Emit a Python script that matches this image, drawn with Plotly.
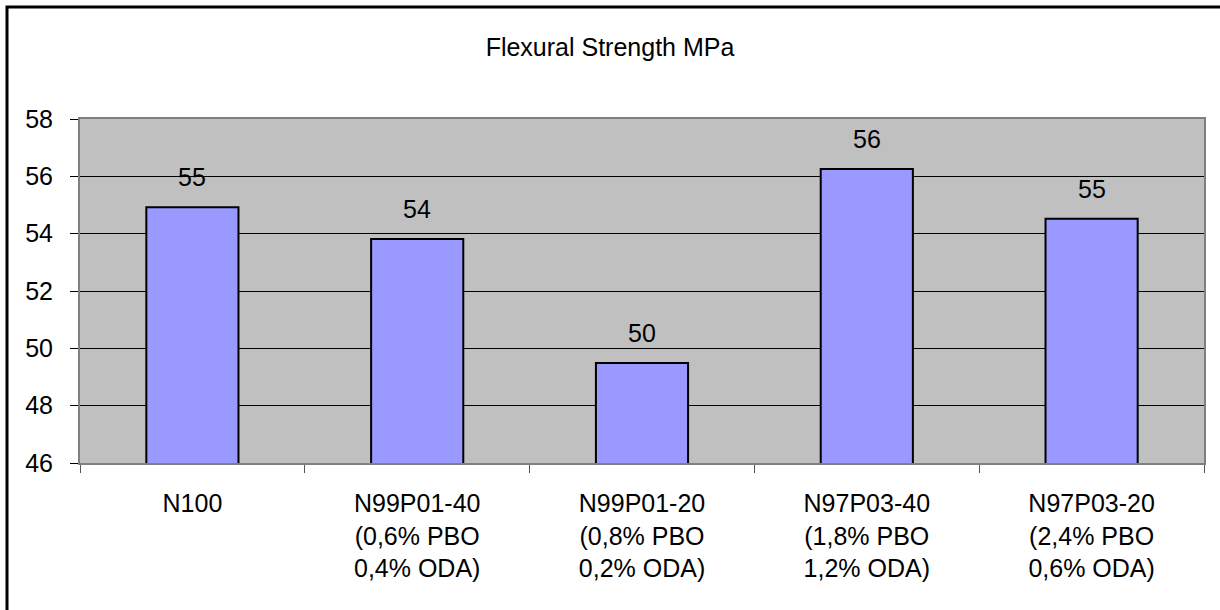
import plotly.graph_objects as go

# Flexural strength per blend composition
categories = [
    "N100",
    "N99P01-40<br>(0,6% PBO<br>0,4% ODA)",
    "N99P01-20<br>(0,8% PBO<br>0,2% ODA)",
    "N97P03-40<br>(1,8% PBO<br>1,2% ODA)",
    "N97P03-20<br>(2,4% PBO<br>0,6% ODA)",
]
strength = [54.92, 53.81, 49.49, 56.26, 54.52]
value_labels = ["55", "54", "50", "56", "55"]
y_ticks = [46, 48, 50, 52, 54, 56, 58]

FONT = "Liberation Sans, Arial, sans-serif"

fig = go.Figure()
fig.add_trace(go.Bar(
    x=categories,
    y=strength,
    width=0.41,
    marker=dict(color="#9999FF", line=dict(color="#000000", width=2)),
    hoverinfo="x+y",
))

# value labels above each bar
for cat, val, lab in zip(categories, strength, value_labels):
    fig.add_annotation(
        x=cat, y=val, text=lab, showarrow=False,
        yanchor="middle", yshift=30,
        font=dict(family=FONT, size=25, color="#000000"),
    )

# outer chart frame
fig.add_shape(
    type="rect", xref="paper", yref="paper",
    x0=(7 - 80) / 1124, x1=(1230 - 80) / 1124,
    y0=(463 - 620) / 344, y1=(463 - 7) / 344,
    line=dict(color="#000000", width=3), fillcolor="rgba(0,0,0,0)",
    layer="above",
)

fig.update_layout(
    width=1220, height=610,
    margin=dict(l=80, r=16, t=119, b=147, pad=0),
    paper_bgcolor="#FFFFFF",
    plot_bgcolor="#C0C0C0",
    showlegend=False,
    bargap=0.59,
    title=dict(
        text="Flexural Strength MPa",
        x=0.5, xref="container", xanchor="center",
        y=1 - 47 / 610, yref="container", yanchor="middle",
        font=dict(family=FONT, size=25, color="#000000"),
    ),
    font=dict(family=FONT, size=25, color="#000000"),
    xaxis=dict(
        type="category",
        tickson="boundaries",
        ticks="outside", ticklen=8, tickcolor="#555555", tickwidth=1,
        showline=True, linecolor="#808080", linewidth=2, mirror=True,
        showgrid=False,
        tickfont=dict(family=FONT, size=25, color="#000000"),
        ticklabelstandoff=17,
    ),
    yaxis=dict(
        range=[46, 58],
        tickvals=y_ticks,
        ticktext=[str(v) for v in y_ticks],
        ticks="outside", ticklen=8, tickcolor="#000000", tickwidth=1,
        showline=True, linecolor="#808080", linewidth=2, mirror=True,
        showgrid=True, gridcolor="#000000", gridwidth=1,
        zeroline=False,
        tickfont=dict(family=FONT, size=25, color="#000000"),
        ticklabelstandoff=12,
    ),
)

fig.write_html("out.html")
